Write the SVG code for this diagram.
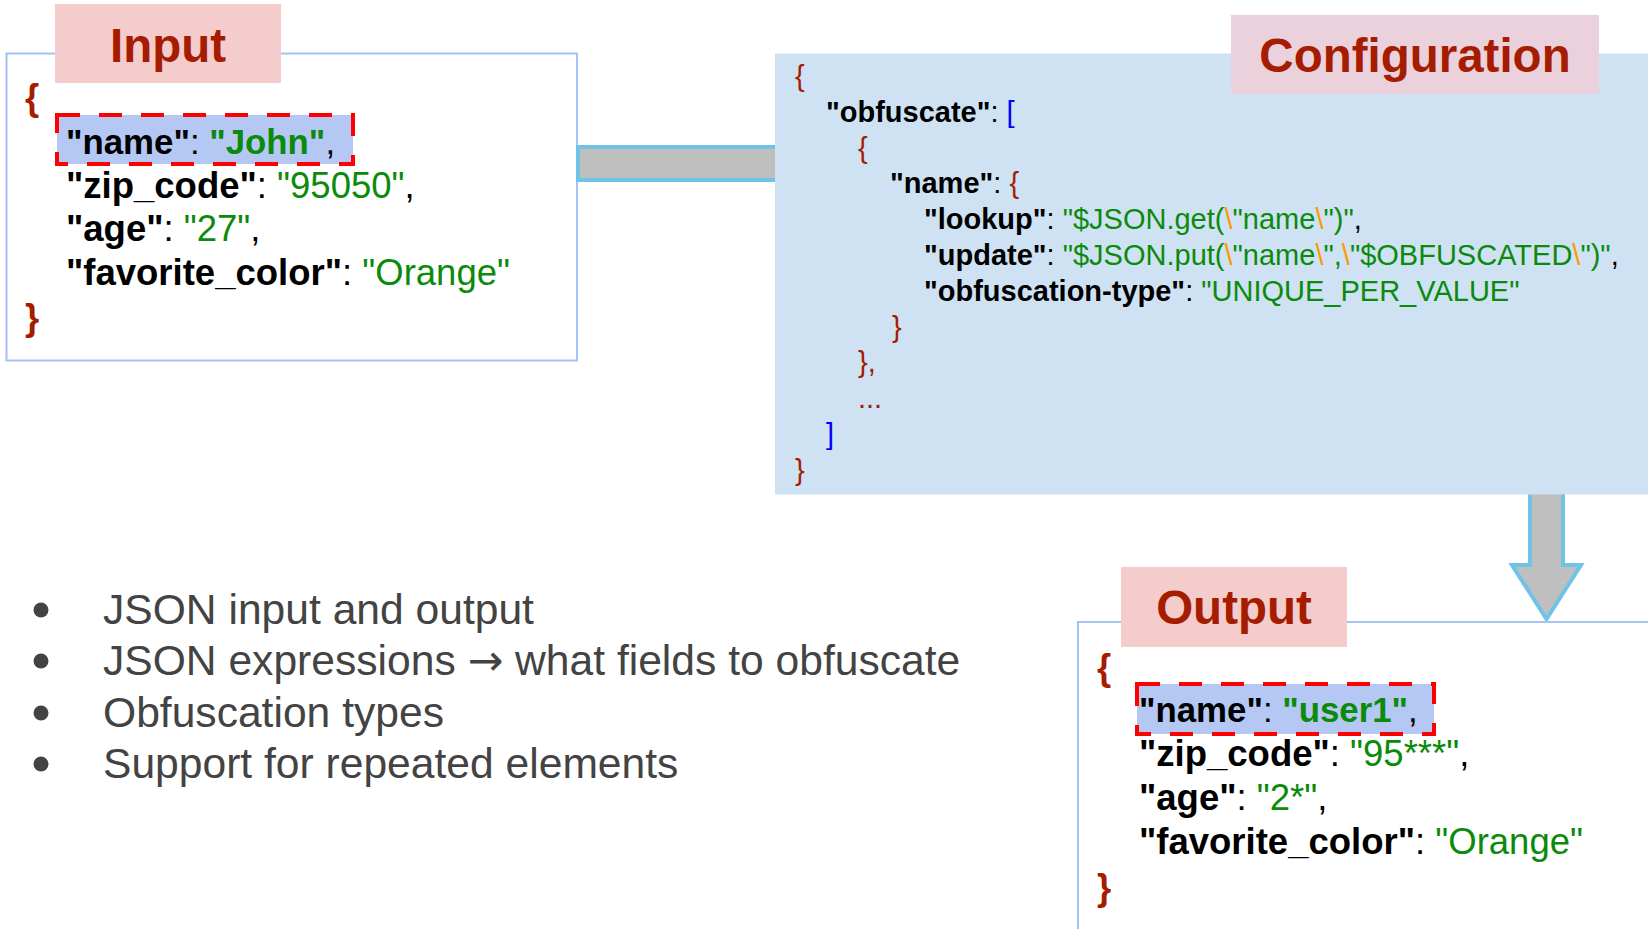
<svg xmlns="http://www.w3.org/2000/svg" width="1648" height="929" viewBox="0 0 1648 929">
<style>
text{font-family:"Liberation Sans",Arial,sans-serif}
.js{font-size:36.5px;fill:#000}
.hx{font-size:34.8px}
.cfg{font-size:29px;fill:#000}
.bul{font-size:42.6px;fill:#434343}
.k{font-weight:bold}
.g{fill:#0b8a0b}
.o{fill:#ff9900}
.br{fill:#a61c00}
.bb{fill:#a61c00;font-weight:bold}
.bl{fill:#0000ff}
.lbl{font-size:47.5px;font-weight:bold;fill:#a61c00;text-anchor:middle}
.box{fill:#fff;stroke:#a4c2f4;stroke-width:2}
.hl{fill:#b4c8f3;stroke:#ff0000;stroke-width:4;stroke-dasharray:23 19}
.arrow{fill:#bfbfbf;stroke:#6fc3e6;stroke-width:4}
.ar{font-family:"DejaVu Sans",sans-serif}
</style>
<rect width="1648" height="929" fill="#fff"/>

<g id="input">
<rect class="box" x="6.5" y="53.5" width="570.5" height="307"/>
<rect x="55" y="4" width="226" height="79" fill="#f4cccc"/>
<text class="lbl" x="168" y="62">Input</text>
<text class="js bb" x="25" y="110">{</text>
<rect class="hl" x="57" y="115" width="296" height="49"/>
<text class="js hx" x="66" y="154"><tspan class="k">"name"</tspan>: <tspan class="k g">"John"</tspan>,</text>
<text class="js" x="66" y="197.5"><tspan class="k">"zip_code"</tspan>: <tspan class="g">"95050"</tspan>,</text>
<text class="js" x="66" y="241"><tspan class="k">"age"</tspan>: <tspan class="g">"27"</tspan>,</text>
<text class="js" x="66" y="285"><tspan class="k">"favorite_color"</tspan>: <tspan class="g">"Orange"</tspan></text>
<text class="js bb" x="25" y="330">}</text>
</g>

<g id="connectors">
<rect class="arrow" x="578" y="147" width="230" height="33"/>
<polygon class="arrow" points="1530,470 1563,470 1563,565 1581,565 1546.5,619 1512,565 1530,565"/>
</g>

<g id="configuration">
<rect x="775" y="53.5" width="900" height="441" fill="#cfe2f3"/>
<rect x="1231" y="15" width="368" height="79" fill="#ead1dc"/>
<text class="lbl" x="1415" y="72">Configuration</text>
<text class="cfg br" x="795" y="86">{</text>
<text class="cfg" x="826" y="121.8"><tspan class="k">"obfuscate"</tspan>: <tspan class="bl">[</tspan></text>
<text class="cfg br" x="858" y="157.6">{</text>
<text class="cfg" x="890" y="193.4"><tspan class="k">"name"</tspan>: <tspan class="br">{</tspan></text>
<text class="cfg" x="924" y="229.2"><tspan class="k">"lookup"</tspan>: <tspan class="g">"$JSON.get(</tspan><tspan class="o">\</tspan><tspan class="g">"name</tspan><tspan class="o">\</tspan><tspan class="g">")"</tspan>,</text>
<text class="cfg" x="924" y="265"><tspan class="k">"update"</tspan>: <tspan class="g">"$JSON.put(</tspan><tspan class="o">\</tspan><tspan class="g">"name</tspan><tspan class="o">\</tspan><tspan class="g">",</tspan><tspan class="o">\</tspan><tspan class="g">"$OBFUSCATED</tspan><tspan class="o">\</tspan><tspan class="g">")"</tspan>,</text>
<text class="cfg" x="924" y="300.8"><tspan class="k">"obfuscation-type"</tspan>: <tspan class="g">"UNIQUE_PER_VALUE"</tspan></text>
<text class="cfg br" x="892" y="336.6">}</text>
<text class="cfg br" x="858" y="372.4">},</text>
<text class="cfg br" x="858" y="408.2">...</text>
<text class="cfg bl" x="826" y="444">]</text>
<text class="cfg br" x="795" y="479.8">}</text>
</g>

<g id="output">
<rect class="box" x="1078" y="622" width="620" height="400"/>
<rect x="1121" y="567" width="226" height="80" fill="#f4cccc"/>
<text class="lbl" x="1234" y="624">Output</text>
<text class="js bb" x="1097" y="680">{</text>
<rect class="hl" x="1137" y="684" width="297" height="50"/>
<text class="js hx" x="1139" y="722"><tspan class="k">"name"</tspan>: <tspan class="k g">"user1"</tspan>,</text>
<text class="js" x="1139" y="766"><tspan class="k">"zip_code"</tspan>: <tspan class="g">"95***"</tspan>,</text>
<text class="js" x="1139" y="810"><tspan class="k">"age"</tspan>: <tspan class="g">"2*"</tspan>,</text>
<text class="js" x="1139" y="854"><tspan class="k">"favorite_color"</tspan>: <tspan class="g">"Orange"</tspan></text>
<text class="js bb" x="1097" y="900">}</text>
</g>

<g id="bullets">
<circle cx="41" cy="610" r="7.5" fill="#434343"/>
<circle cx="41" cy="661" r="7.5" fill="#434343"/>
<circle cx="41" cy="713" r="7.5" fill="#434343"/>
<circle cx="41" cy="764" r="7.5" fill="#434343"/>
<text class="bul" x="103" y="624">JSON input and output</text>
<text class="bul" x="103" y="675">JSON expressions <tspan class="ar">→</tspan> what fields to obfuscate</text>
<text class="bul" x="103" y="727">Obfuscation types</text>
<text class="bul" x="103" y="778">Support for repeated elements</text>
</g>
</svg>
